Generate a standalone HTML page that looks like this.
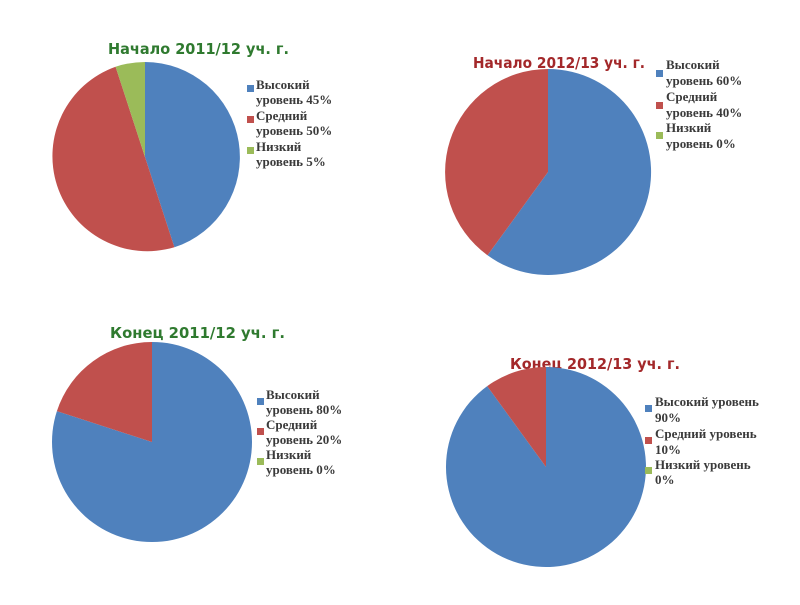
<!DOCTYPE html>
<html><head><meta charset="utf-8"><style>
body{margin:0;background:#fff}
svg text.l{font-family:"Liberation Serif",serif;font-weight:bold;font-size:13px;fill:#3a3a3a}
svg text.t{font-family:"DejaVu Sans","Liberation Sans",sans-serif;font-weight:bold;font-size:15px}
</style></head><body>
<svg width="800" height="600" xmlns="http://www.w3.org/2000/svg">
<text class="t" x="108" y="54" textLength="181" lengthAdjust="spacingAndGlyphs" fill="#2f7a2f">Начало 2011/12 уч. г.</text>
<path d="M145,157 L145,62 A95,95 0 0 1 174.4,247.3 Z" fill="#4f81bd"/>
<path d="M145,157 L174.4,247.3 A95,95 0 0 1 115.6,66.7 Z" fill="#c0504d"/>
<path d="M145,157 L115.6,66.7 A95,95 0 0 1 145,62 Z" fill="#9bbb59"/>
<rect x="247" y="85" width="7" height="7" fill="#4f81bd"/>
<rect x="247" y="116" width="7" height="7" fill="#c0504d"/>
<rect x="247" y="147" width="7" height="7" fill="#9bbb59"/>
<text class="l" x="256" y="89">Высокий</text><text class="l" x="256" y="104">уровень 45%</text>
<text class="l" x="256" y="120">Средний</text><text class="l" x="256" y="135">уровень 50%</text>
<text class="l" x="256" y="151">Низкий</text><text class="l" x="256" y="166">уровень 5%</text>
<text class="t" x="473" y="68" textLength="172" lengthAdjust="spacingAndGlyphs" fill="#a3282a">Начало 2012/13 уч. г.</text>
<path d="M548,172 L548,69 A103,103 0 1 1 487.5,255.3 Z" fill="#4f81bd"/>
<path d="M548,172 L487.5,255.3 A103,103 0 0 1 548,69 Z" fill="#c0504d"/>
<rect x="656" y="70" width="7" height="7" fill="#4f81bd"/>
<rect x="656" y="102" width="7" height="7" fill="#c0504d"/>
<rect x="656" y="132" width="7" height="7" fill="#9bbb59"/>
<text class="l" x="666" y="69">Высокий</text><text class="l" x="666" y="85">уровень 60%</text>
<text class="l" x="666" y="101">Средний</text><text class="l" x="666" y="117">уровень 40%</text>
<text class="l" x="666" y="132">Низкий</text><text class="l" x="666" y="148">уровень 0%</text>
<text class="t" x="110" y="338" textLength="175" lengthAdjust="spacingAndGlyphs" fill="#2f7a2f">Конец 2011/12 уч. г.</text>
<path d="M152,442 L152,342 A100,100 0 1 1 56.9,411.1 Z" fill="#4f81bd"/>
<path d="M152,442 L56.9,411.1 A100,100 0 0 1 152,342 Z" fill="#c0504d"/>
<rect x="257" y="398" width="7" height="7" fill="#4f81bd"/>
<rect x="257" y="428" width="7" height="7" fill="#c0504d"/>
<rect x="257" y="458" width="7" height="7" fill="#9bbb59"/>
<text class="l" x="266" y="399">Высокий</text><text class="l" x="266" y="414">уровень 80%</text>
<text class="l" x="266" y="429">Средний</text><text class="l" x="266" y="444">уровень 20%</text>
<text class="l" x="266" y="459">Низкий</text><text class="l" x="266" y="474">уровень 0%</text>
<text class="t" x="510" y="369" textLength="170" lengthAdjust="spacingAndGlyphs" fill="#a3282a">Конец 2012/13 уч. г.</text>
<path d="M546,467 L546,367 A100,100 0 1 1 487.2,386.1 Z" fill="#4f81bd"/>
<path d="M546,467 L487.2,386.1 A100,100 0 0 1 546,367 Z" fill="#c0504d"/>
<rect x="645" y="405" width="7" height="7" fill="#4f81bd"/>
<rect x="645" y="437" width="7" height="7" fill="#c0504d"/>
<rect x="645" y="467" width="7" height="7" fill="#9bbb59"/>
<text class="l" x="655" y="406">Высокий уровень</text><text class="l" x="655" y="422">90%</text>
<text class="l" x="655" y="438">Средний уровень</text><text class="l" x="655" y="454">10%</text>
<text class="l" x="655" y="469">Низкий уровень</text><text class="l" x="655" y="484">0%</text>
</svg>
</body></html>
